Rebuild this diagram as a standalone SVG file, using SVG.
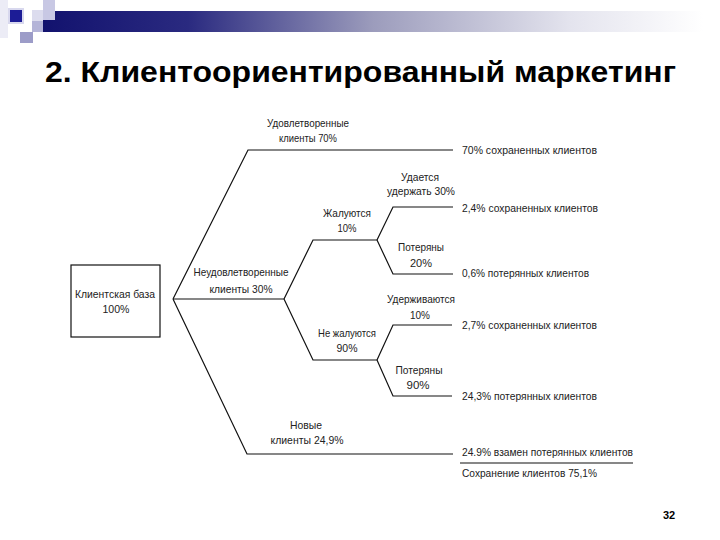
<svg xmlns="http://www.w3.org/2000/svg" width="720" height="540" viewBox="0 0 720 540">
  <defs>
    <linearGradient id="bar" x1="0" y1="0" x2="1" y2="0">
      <stop offset="0" stop-color="#12126e"/>
      <stop offset="0.22" stop-color="#2a2a80"/>
      <stop offset="0.5" stop-color="#9c9cbc"/>
      <stop offset="0.8" stop-color="#e4e4ee"/>
      <stop offset="1" stop-color="#ffffff"/>
    </linearGradient>
    <style>
      .t { font-family: "Liberation Sans", Arial, sans-serif; font-size: 11px; fill: #222; }
      .c { text-anchor: middle; }
      .ln { fill: none; stroke: #111; stroke-width: 1.2; }
    </style>
  </defs>
  <rect width="720" height="540" fill="#ffffff"/>

  <g id="decoration">
    <rect x="0" y="0" width="8" height="38" fill="#ececf6"/>
    <rect x="43" y="11" width="660" height="21" fill="url(#bar)"/>
    <rect x="43" y="0" width="12" height="20" fill="#c8c8e4"/>
    <rect x="32" y="10" width="11" height="11" fill="#dcdcee"/>
    <rect x="32" y="21" width="11" height="11" fill="#b4b4d8"/>
    <rect x="20" y="32" width="13" height="11" fill="#9c9cc8"/>
    <rect x="8" y="8" width="16" height="16" fill="#d8d8ee"/>
    <rect x="10" y="10" width="12" height="12" fill="#1c1c96"/>
  </g>

  <text id="title" x="45" y="82" font-family="Liberation Sans, Arial, sans-serif" font-size="30" font-weight="bold" fill="#000" textLength="631" lengthAdjust="spacingAndGlyphs">2. Клиентоориентированный маркетинг</text>

  <g id="connectors">
    <path class="ln" d="M173,299 L248,150 L453,150"/>
    <path class="ln" d="M173,299 L284,299"/>
    <path class="ln" d="M173,299 L247,454 L453,454"/>
    <path class="ln" d="M284,299 L313,240 L377,240"/>
    <path class="ln" d="M284,299 L313,360 L377,360"/>
    <path class="ln" d="M377,240 L393,207 L453,207"/>
    <path class="ln" d="M377,240 L393,274 L453,274"/>
    <path class="ln" d="M377,360 L393,325 L452,325"/>
    <path class="ln" d="M377,360 L393,396 L452,396"/>
    <path class="ln" d="M460,463 L633,463"/>
  </g>

  <g id="base">
    <rect x="71" y="265" width="89" height="72" fill="#fff" stroke="#111" stroke-width="1.2"/>
    <text class="t c" x="115" y="298" textLength="80" lengthAdjust="spacingAndGlyphs">Клиентская база</text>
    <text class="t c" x="116" y="313" textLength="27" lengthAdjust="spacingAndGlyphs">100%</text>
  </g>

  <g id="satisfied">
    <text class="t c" x="308" y="127" textLength="82" lengthAdjust="spacingAndGlyphs">Удовлетворенные</text>
    <text class="t c" x="308" y="142" textLength="58" lengthAdjust="spacingAndGlyphs">клиенты 70%</text>
  </g>

  <g id="unsatisfied">
    <text class="t c" x="241" y="276" textLength="95" lengthAdjust="spacingAndGlyphs">Неудовлетворенные</text>
    <text class="t c" x="241" y="293" textLength="63" lengthAdjust="spacingAndGlyphs">клиенты 30%</text>
  </g>

  <g id="complain">
    <text class="t c" x="347" y="217" textLength="48" lengthAdjust="spacingAndGlyphs">Жалуются</text>
    <text class="t c" x="347" y="232" textLength="19" lengthAdjust="spacingAndGlyphs">10%</text>
  </g>

  <g id="nocomplain">
    <text class="t c" x="347" y="337" textLength="58" lengthAdjust="spacingAndGlyphs">Не жалуются</text>
    <text class="t c" x="347" y="352" textLength="21" lengthAdjust="spacingAndGlyphs">90%</text>
  </g>

  <g id="retain1">
    <text class="t c" x="420" y="181" textLength="38" lengthAdjust="spacingAndGlyphs">Удается</text>
    <text class="t c" x="421" y="195" textLength="68" lengthAdjust="spacingAndGlyphs">удержать 30%</text>
  </g>

  <g id="lost1">
    <text class="t c" x="421" y="251" textLength="46" lengthAdjust="spacingAndGlyphs">Потеряны</text>
    <text class="t c" x="421" y="267" textLength="22" lengthAdjust="spacingAndGlyphs">20%</text>
  </g>

  <g id="retain2">
    <text class="t c" x="421" y="303" textLength="68" lengthAdjust="spacingAndGlyphs">Удерживаются</text>
    <text class="t c" x="420" y="319" textLength="20" lengthAdjust="spacingAndGlyphs">10%</text>
  </g>

  <g id="lost2">
    <text class="t c" x="419" y="374" textLength="47" lengthAdjust="spacingAndGlyphs">Потеряны</text>
    <text class="t c" x="418" y="389" textLength="23" lengthAdjust="spacingAndGlyphs">90%</text>
  </g>

  <g id="newclients">
    <text class="t c" x="306" y="429" textLength="32" lengthAdjust="spacingAndGlyphs">Новые</text>
    <text class="t c" x="307" y="444" textLength="73" lengthAdjust="spacingAndGlyphs">клиенты 24,9%</text>
  </g>

  <g id="results">
    <text class="t" x="462" y="154" textLength="135" lengthAdjust="spacingAndGlyphs">70% сохраненных клиентов</text>
    <text class="t" x="462" y="212" textLength="136" lengthAdjust="spacingAndGlyphs">2,4% сохраненных клиентов</text>
    <text class="t" x="462" y="277" textLength="127" lengthAdjust="spacingAndGlyphs">0,6% потерянных клиентов</text>
    <text class="t" x="462" y="329" textLength="135" lengthAdjust="spacingAndGlyphs">2,7% сохраненных клиентов</text>
    <text class="t" x="462" y="400" textLength="135" lengthAdjust="spacingAndGlyphs">24,3% потерянных клиентов</text>
    <text class="t" x="462" y="456" textLength="171" lengthAdjust="spacingAndGlyphs">24.9% взамен потерянных клиентов</text>
    <text class="t" x="462" y="477" textLength="135" lengthAdjust="spacingAndGlyphs">Сохранение клиентов 75,1%</text>
  </g>

  <text id="page" x="669" y="519" text-anchor="middle" font-family="Liberation Sans, Arial, sans-serif" font-size="11" font-weight="bold" fill="#000">32</text>
</svg>
